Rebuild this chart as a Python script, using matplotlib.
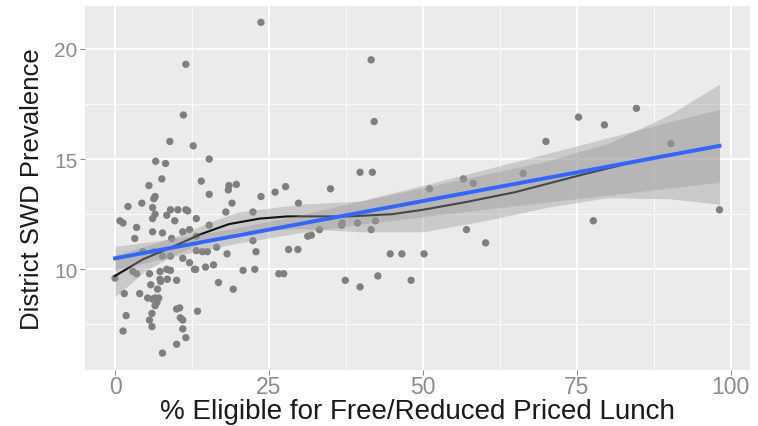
import matplotlib
matplotlib.use("Agg")
import matplotlib.pyplot as plt

plt.rcParams["font.family"] = ["Liberation Sans", "DejaVu Sans"]

# ---------------------------------------------------------------------------
# Data
# ---------------------------------------------------------------------------

# district points: % eligible for free/reduced lunch, SWD prevalence
pct_frl = [
    23.7, 11.5, 41.6, 11.1, 42.1, 84.7, 75.3, 79.5, 8.9, 12.7,
    70.0, 90.3, 6.6, 8.2, 15.3, 39.8, 41.8, 66.3, 56.6, 58.2,
    7.6, 5.5, 14.0, 18.5, 18.4, 19.7, 35.0, 51.1, 23.7, 26.0,
    27.7, 15.3, 6.5, 29.8, 4.35, 2.1, 6.3, 6.1, 9.0, 10.2,
    11.5, 11.8, 6.5, 6.1, 13.2, 8.4, 9.7, 0.8, 1.3, 3.5,
    15.3, 18.0, 19.0, 22.4, 6.1, 7.7, 11.0, 12.1, 3.2, 9.2,
    13.2, 16.5, 22.4, 4.5, 6.3, 7.7, 9.0, 11.0, 14.2, 13.2,
    18.2, 22.9, 28.2, 29.7, 12.1, 2.9, 3.5, 5.6, 7.3, 8.4,
    9.0, 8.5, 10.0, 13.1, 14.7, 16.0, 20.8, 22.7, 16.8, 19.2,
    26.6, 27.4, 0.0, 5.8, 7.4, 1.5, 4.0, 5.3, 6.1, 6.8,
    7.1, 10.5, 10.0, 13.4, 6.0, 1.8, 5.6, 10.6, 6.0, 11.0,
    1.3, 11.5, 10.0, 7.7, 31.3, 31.9, 33.2, 36.8, 36.9, 39.4,
    41.6, 42.3, 57.1, 60.2, 44.7, 46.6, 50.2, 37.4, 39.8, 42.7,
    48.1, 98.2, 77.7, 15.0, 12.9, 11.0, 7.3, 6.9, 6.5, 6.5,
]
swd_prev = [
    21.2, 19.3, 19.5, 17.0, 16.7, 17.3, 16.9, 16.55, 15.8, 15.6,
    15.8, 15.7, 14.9, 14.8, 15.0, 14.4, 14.4, 14.35, 14.1, 13.9,
    14.1, 13.8, 14.0, 13.8, 13.6, 13.85, 13.65, 13.65, 13.3, 13.5,
    13.75, 13.4, 13.3, 13.0, 13.0, 12.85, 13.2, 12.8, 12.7, 12.7,
    12.7, 12.65, 12.5, 12.3, 12.3, 12.45, 12.2, 12.2, 12.1, 11.9,
    12.0, 12.6, 13.0, 12.6, 11.7, 11.65, 11.7, 11.8, 11.4, 11.4,
    11.5, 11.0, 11.3, 10.8, 10.8, 10.6, 10.6, 10.5, 10.8, 10.85,
    10.7, 10.8, 10.9, 10.9, 10.3, 9.9, 9.8, 9.8, 9.9, 10.0,
    9.95, 9.55, 9.5, 10.0, 10.1, 10.2, 9.95, 10.0, 9.4, 9.1,
    9.8, 9.8, 9.6, 9.3, 9.45, 8.9, 8.9, 8.7, 8.65, 8.5,
    8.7, 8.25, 8.2, 8.1, 8.0, 7.9, 7.7, 7.8, 7.4, 7.3,
    7.2, 6.9, 6.6, 6.2, 11.5, 11.55, 11.8, 12.0, 12.1, 12.1,
    11.8, 12.2, 11.8, 11.2, 10.7, 10.7, 10.7, 9.5, 9.2, 9.7,
    9.5, 12.7, 12.2, 10.8, 10.0, 7.7, 9.55, 9.1, 8.35, 8.7,
]

# loess smoother and its confidence band
loess_x = [0, 4.5, 10, 14, 18.5, 23.5, 28, 33.5, 38, 45, 50, 57, 65, 76, 87, 98.2]
loess_y = [9.7, 10.45, 11.1, 11.6, 12.05, 12.3, 12.4, 12.4, 12.4, 12.5, 12.7,
           13.05, 13.5, 14.3, 15.05, 15.6]
loess_band_x = [0, 5, 10, 15, 20, 30, 40, 50, 60, 70, 80, 90, 98.2]
loess_lower = [8.75, 9.95, 10.7, 11.3, 11.7, 11.85, 11.7, 11.7, 12.2, 12.8, 13.25, 13.2, 12.95]
loess_upper = [10.65, 11.05, 11.5, 12.1, 12.6, 12.95, 13.1, 13.7, 14.3, 14.9, 15.7, 17.0, 18.4]

# linear fit and its confidence band
lm_x = [0, 98.2]
lm_y = [10.5, 15.6]
lm_band_x = [0, 10, 20, 30, 40, 50, 60, 70, 80, 90, 98.2]
lm_lower = [9.97, 10.62, 11.19, 11.66, 12.05, 12.39, 12.72, 13.04, 13.36, 13.68, 13.95]
lm_upper = [11.03, 11.42, 11.89, 12.46, 13.11, 13.81, 14.52, 15.24, 15.96, 16.68, 17.25]

x_ticks = [0, 25, 50, 75, 100]
y_ticks = [10, 15, 20]

# ---------------------------------------------------------------------------
# Figure
# ---------------------------------------------------------------------------

fig = plt.figure(figsize=(7.58, 4.27), dpi=100)
ax = fig.add_axes([0.112, 0.132, 0.877, 0.852])
ax.set_facecolor("#EBEBEB")

ax.scatter(pct_frl, swd_prev, s=28, color="#7F7F7F", edgecolors="none", zorder=2)

ax.fill_between(loess_band_x, loess_lower, loess_upper, color="#999999", alpha=0.4,
                linewidth=0, zorder=3)
ax.plot(loess_x, loess_y, color="#111111", linewidth=1.5, zorder=4)

ax.fill_between(lm_band_x, lm_lower, lm_upper, color="#999999", alpha=0.4,
                linewidth=0, zorder=5)
ax.plot(lm_x, lm_y, color="#3366FF", linewidth=2.8, zorder=6)

ax.set_xlim(-4.9, 103.1)
ax.set_ylim(5.45, 21.95)
ax.set_xticks(x_ticks)
ax.set_yticks(y_ticks)
ax.set_xticks([12.5, 37.5, 62.5, 87.5], minor=True)
ax.set_yticks([7.5, 12.5, 17.5], minor=True)
ax.grid(True, which="major", color="white", linewidth=1.3, zorder=0)
ax.grid(True, which="minor", color="white", linewidth=0.6, zorder=0)
ax.set_axisbelow(True)
for s in ax.spines.values():
    s.set_visible(False)

ax.tick_params(axis="both", which="major", length=3.5, width=0.8, color="#8C8C8C",
               labelcolor="#8C8C8C")
ax.tick_params(axis="x", labelsize=16.5, pad=0.5)
ax.tick_params(axis="y", labelsize=15, pad=2)
ax.tick_params(which="minor", length=0)

ax.set_xlabel("% Eligible for Free/Reduced Priced Lunch", fontsize=20, color="#1A1A1A",
              labelpad=0)
ax.set_ylabel("District SWD Prevalence", fontsize=18.5, color="#1A1A1A", labelpad=7)

fig.savefig("out.png", dpi=100)
